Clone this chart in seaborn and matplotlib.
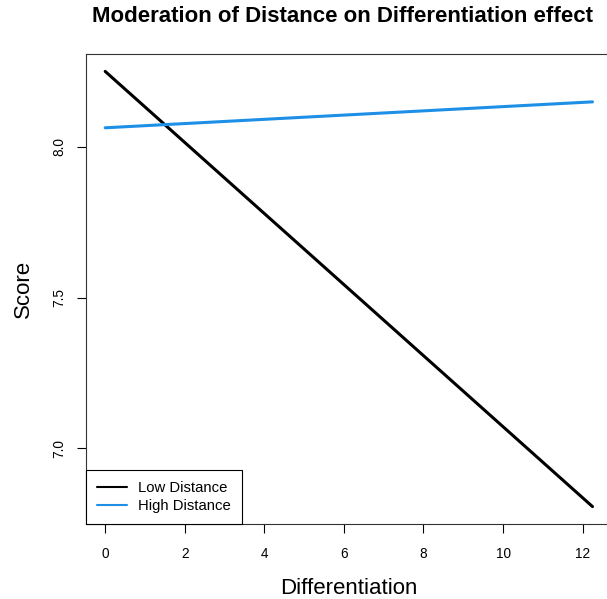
import matplotlib
matplotlib.use("Agg")
import matplotlib.pyplot as plt
import seaborn as sns
import pandas as pd
from matplotlib.lines import Line2D

# Data
differentiation = [0.0, 12.25]
low_distance = [8.25, 6.807]
high_distance = [8.063, 8.149]
groups = ["Low Distance", "High Distance"]
colors = ["#000000", "#1E8FE6"]
x_ticks = [0, 2, 4, 6, 8, 10, 12]
y_ticks = [7.0, 7.5, 8.0]

df = pd.DataFrame({
    "Differentiation": differentiation * 2,
    "Score": low_distance + high_distance,
    "Group": [groups[0]] * len(differentiation) + [groups[1]] * len(differentiation),
})

sns.set_style("white")
plt.rcParams["font.family"] = ["Liberation Sans", "DejaVu Sans"]
plt.rcParams["text.color"] = "black"
plt.rcParams["axes.labelcolor"] = "black"
plt.rcParams["xtick.color"] = "black"
plt.rcParams["ytick.color"] = "black"

W, H = 607, 599
fig = plt.figure(figsize=(W / 100, H / 100), dpi=100)
ax = fig.add_axes([85.7 / W, (H - 524) / H, (612 - 85.7) / W, (524 - 54) / H])

sns.lineplot(data=df, x="Differentiation", y="Score", hue="Group",
             hue_order=groups, palette=colors, linewidth=2.2, ax=ax,
             legend=False)

ax.set_xlim(-0.49, 12.74)
ax.set_ylim(6.7493, 8.3077)
ax.set_xticks(x_ticks)
ax.set_xticklabels([str(t) for t in x_ticks])
ax.set_yticks(y_ticks)
ax.set_yticklabels([f"{t:.1f}" for t in y_ticks], rotation=90, va="center")
ax.tick_params(axis="both", direction="out", length=6.5, width=0.8,
               color="black", labelcolor="black", labelsize=9.8, pad=10,
               bottom=True, left=True)
ax.tick_params(axis="y", pad=7.5)

for s in ax.spines.values():
    s.set_color("#333333")
    s.set_linewidth(0.8)
ax.spines["right"].set_visible(False)

ax.set_xlabel("Differentiation", fontsize=16, labelpad=12, color="black")
ax.set_ylabel("Score", fontsize=16, labelpad=13, color="black")

fig.text(342.5 / W, 1 - 16 / H, "Moderation of Distance on Differentiation effect",
         ha="center", va="center", fontsize=16, fontweight="bold", color="black")

handles = [Line2D([0], [0], color=c, lw=1.5) for c in colors]
leg = ax.legend(handles, groups, loc="lower left", bbox_to_anchor=(0, 0),
                borderaxespad=0, fontsize=10.7, frameon=True, fancybox=False,
                framealpha=1, edgecolor="black", handlelength=2.0,
                handletextpad=0.75, borderpad=0.75, labelspacing=0.25)
leg.get_frame().set_linewidth(0.8)
for t in leg.get_texts():
    t.set_color("black")

fig.savefig("out.png", dpi=100)
